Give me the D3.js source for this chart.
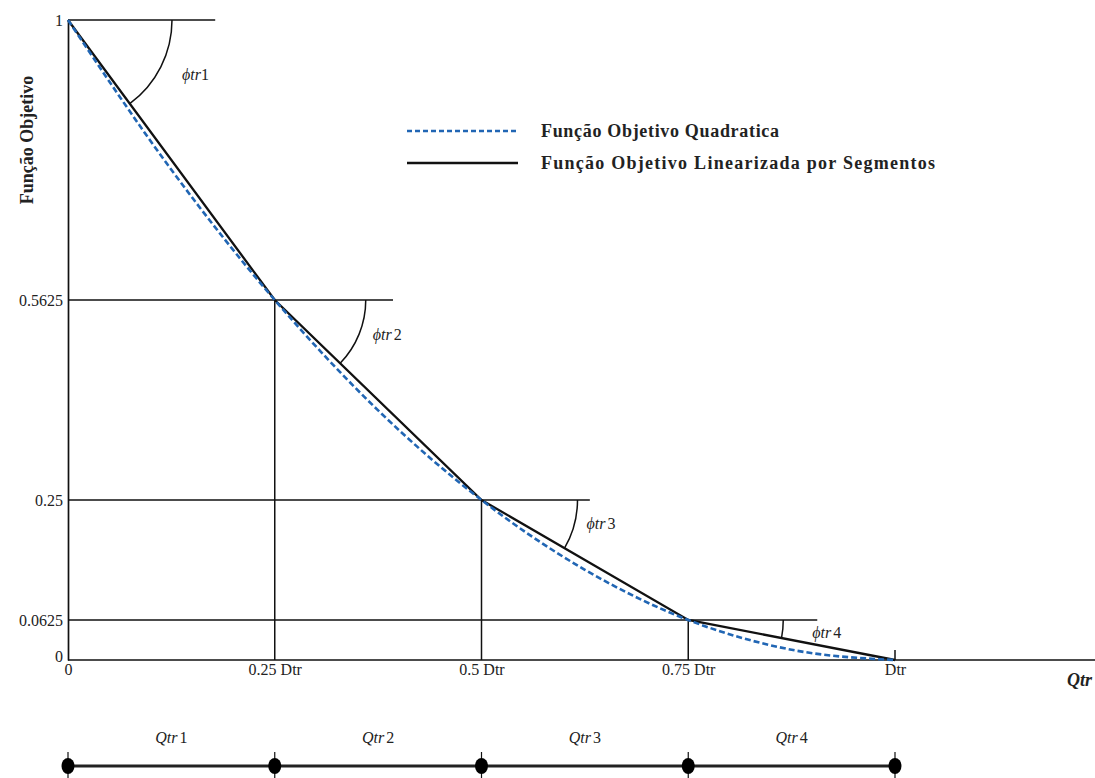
<!DOCTYPE html>
<html lang="pt">
<head>
    <meta charset="UTF-8">
    <title>Função Objetivo</title>
    <script src="https://d3js.org/d3.v7.min.js"></script>
    <style>
        body { margin: 0; background: #fff; }
        svg { display: block; font-family: "Liberation Serif", "Times New Roman", serif; }
    </style>
</head>
<body>
    <div id="chart"></div>

    <script>
        // breakpoints of the piecewise-linear function
        const breakX = [0, 0.25, 0.5, 0.75, 1];
        const breakY = [1, 0.5625, 0.25, 0.0625, 0];

        // quadratic objective
        const quadX = [0, 0.125, 0.25, 0.375, 0.5, 0.625, 0.75, 0.875, 1];
        const quadY = [1, 0.766, 0.5625, 0.39, 0.25, 0.141, 0.0625, 0.016, 0];

        const yTicks = [0, 0.0625, 0.25, 0.5625, 1];
        const yTickLabels = ['0', '0.0625', '0.25', '0.5625', '1'];
        const xTicks = [0, 0.25, 0.5, 0.75, 1];
        const xTickLabels = ['0', '0.25 Dtr', '0.5 Dtr', '0.75 Dtr', 'Dtr'];

        // where each horizontal guide line stops (in Qtr units)
        const guideEnd = [0.178, 0.393, 0.631, 0.906];

        const angleNames = ['1', '2', '3', '4'];
        const segmentNames = ['1', '2', '3', '4'];
        const legendNames = ['Função Objetivo Quadratica', 'Função Objetivo Linearizada por Segmentos'];

        const svgWidth = 1095;
        const svgHeight = 778;
        const blue = '#2166b4';

        const svg = d3.select('#chart')
            .append('svg')
            .attr('width', svgWidth)
            .attr('height', svgHeight);

        const x = d3.scaleLinear().domain([0, 1]).range([68, 895]);
        const y = d3.scaleLinear().domain([0, 1]).range([660, 20]);

        // guide lines (horizontal from the y axis, vertical down to the x axis)
        svg.append('g')
            .selectAll('line')
            .data(guideEnd)
            .join('line')
            .attr('x1', x(0))
            .attr('x2', d => x(d))
            .attr('y1', (d, i) => y(breakY[i]))
            .attr('y2', (d, i) => y(breakY[i]))
            .attr('stroke', '#111')
            .attr('stroke-width', 1.5);

        svg.append('g')
            .selectAll('line')
            .data(breakX.slice(1, 4))
            .join('line')
            .attr('x1', d => x(d))
            .attr('x2', d => x(d))
            .attr('y1', y(0))
            .attr('y2', (d, i) => y(breakY[i + 1]))
            .attr('stroke', '#111')
            .attr('stroke-width', 1.5);

        // small tick at Dtr
        svg.append('line')
            .attr('x1', x(1)).attr('x2', x(1))
            .attr('y1', y(0)).attr('y2', y(0) - 10)
            .attr('stroke', '#111')
            .attr('stroke-width', 1.5);

        // axes
        const yAxis = svg.append('g')
            .attr('transform', `translate(${x(0)},0)`)
            .call(d3.axisLeft(y)
                .tickValues(yTicks)
                .tickSize(0)
                .tickSizeOuter(0)
                .tickPadding(5)
                .tickFormat((d, i) => yTickLabels[i]));
        yAxis.select('.domain').attr('stroke', '#111').attr('stroke-width', 1.7);
        yAxis.selectAll('text')
            .attr('font-family', '"Liberation Serif", serif')
            .attr('font-size', 16)
            .attr('fill', '#222')
            .attr('dy', d => d === 0 ? '0.1em' : '0.32em');

        const xAxis = svg.append('g')
            .attr('transform', `translate(0,${y(0)})`)
            .call(d3.axisBottom(x)
                .tickValues(xTicks)
                .tickSize(0)
                .tickPadding(4)
                .tickFormat((d, i) => xTickLabels[i]));
        xAxis.select('.domain').remove();
        xAxis.selectAll('text')
            .attr('font-family', '"Liberation Serif", serif')
            .attr('font-size', 16)
            .attr('fill', '#222');

        svg.append('line')
            .attr('x1', x(0)).attr('x2', svgWidth)
            .attr('y1', y(0)).attr('y2', y(0))
            .attr('stroke', '#111')
            .attr('stroke-width', 1.7);

        svg.append('text')
            .attr('x', 1067)
            .attr('y', 686)
            .attr('font-size', 18)
            .attr('font-style', 'italic')
            .attr('font-weight', 'bold')
            .attr('fill', '#222')
            .text('Qtr');

        svg.append('text')
            .attr('transform', 'translate(33,140) rotate(-90)')
            .attr('text-anchor', 'middle')
            .attr('font-size', 18)
            .attr('font-weight', 'bold')
            .attr('fill', '#222')
            .text('Função Objetivo');

        // angle arcs at each breakpoint
        const arcRadius = [104, 91, 96, 95];
        const labelOffset = [[114, 60], [98, 40], [105, 29], [124, 18]];
        breakX.slice(0, 4).forEach((bx, i) => {
            const cx = x(bx), cy = y(breakY[i]);
            const a = Math.atan2(y(breakY[i + 1]) - cy, x(breakX[i + 1]) - cx);
            const p = d3.path();
            p.moveTo(cx + arcRadius[i], cy);
            p.arc(cx, cy, arcRadius[i], 0, a, false);
            svg.append('path')
                .attr('d', p.toString())
                .attr('fill', 'none')
                .attr('stroke', '#111')
                .attr('stroke-width', 1.5);

            const t = svg.append('text')
                .attr('x', cx + labelOffset[i][0])
                .attr('y', cy + labelOffset[i][1])
                .attr('font-size', 16)
                .attr('fill', '#222');
            t.append('tspan').attr('font-style', 'italic').text('ϕtr');
            t.append('tspan').attr('dx', i === 0 ? 0 : 2).text(angleNames[i]);
        });

        // piecewise linear function
        const line = d3.line()
            .x(d => x(d[0]))
            .y(d => y(d[1]));

        svg.append('path')
            .datum(d3.zip(breakX, breakY))
            .attr('d', line)
            .attr('fill', 'none')
            .attr('stroke', '#111')
            .attr('stroke-width', 2.3);

        // quadratic function (dashed)
        svg.append('path')
            .datum(d3.zip(quadX, quadY))
            .attr('d', line.curve(d3.curveMonotoneX))
            .attr('fill', 'none')
            .attr('stroke', blue)
            .attr('stroke-width', 2.6)
            .attr('stroke-dasharray', '6,3');

        // legend
        const legendWidths = [238, 394];
        const legend = svg.append('g').attr('transform', 'translate(407,131)');
        legendNames.forEach((name, i) => {
            legend.append('line')
                .attr('x1', 0).attr('x2', 111)
                .attr('y1', i * 32).attr('y2', i * 32)
                .attr('stroke', i === 0 ? blue : '#111')
                .attr('stroke-width', 2.6)
                .attr('stroke-dasharray', i === 0 ? '5,3' : null);
            legend.append('text')
                .attr('x', 134)
                .attr('y', i * 32 + 6)
                .attr('font-size', 18)
                .attr('font-weight', 'bold')
                .attr('fill', '#222')
                .attr('textLength', legendWidths[i])
                .attr('lengthAdjust', 'spacing')
                .text(name);
        });

        // segment bar under the chart
        const barY = 766;
        svg.append('line')
            .attr('x1', x(0)).attr('x2', x(1))
            .attr('y1', barY).attr('y2', barY)
            .attr('stroke', '#222')
            .attr('stroke-width', 3);

        svg.append('g')
            .selectAll('line')
            .data(breakX)
            .join('line')
            .attr('x1', d => x(d)).attr('x2', d => x(d))
            .attr('y1', barY - 14).attr('y2', barY + 14)
            .attr('stroke', '#111')
            .attr('stroke-width', 1.2);

        svg.append('g')
            .selectAll('ellipse')
            .data(breakX)
            .join('ellipse')
            .attr('cx', d => x(d))
            .attr('cy', barY)
            .attr('rx', 6.5)
            .attr('ry', 8)
            .attr('fill', '#000');

        svg.append('g')
            .selectAll('text')
            .data(segmentNames)
            .join('text')
            .attr('x', (d, i) => x((breakX[i] + breakX[i + 1]) / 2))
            .attr('y', barY - 23)
            .attr('text-anchor', 'middle')
            .attr('font-size', 16)
            .attr('fill', '#222')
            .each(function (d) {
                const t = d3.select(this);
                t.append('tspan').attr('font-style', 'italic').text('Qtr');
                t.append('tspan').attr('dx', 2).text(d);
            });
    </script>
</body>
</html>
